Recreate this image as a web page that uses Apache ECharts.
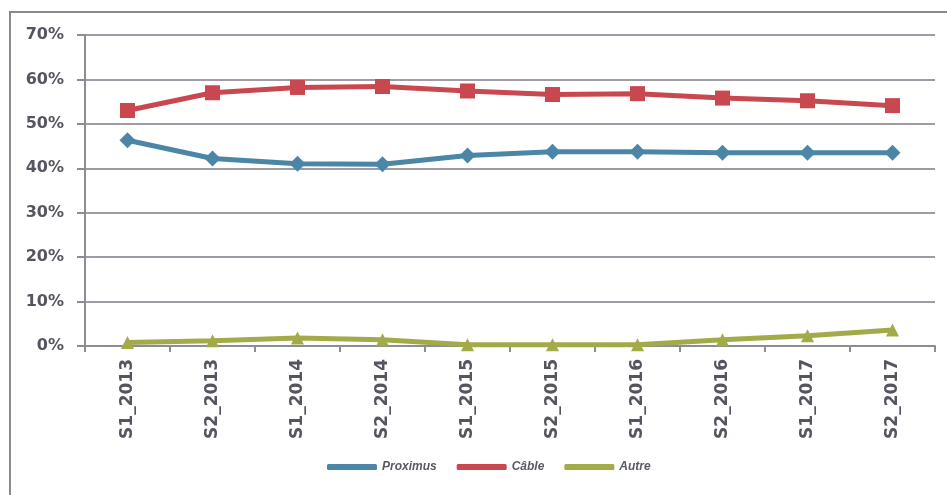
<!DOCTYPE html>
<html>
<head>
<meta charset="utf-8">
<script src="https://cdn.jsdelivr.net/npm/echarts@6/dist/echarts.min.js"></script>
<style>
  html, body { margin: 0; padding: 0; background: #ffffff; }
  #chart { width: 947px; height: 495px; }
</style>
</head>
<body>
<div id="chart"></div>
<script>
// Half-year periods on the category axis
const periods = ['S1_2013', 'S2_2013', 'S1_2014', 'S2_2014', 'S1_2015',
                 'S2_2015', 'S1_2016', 'S2_2016', 'S1_2017', 'S2_2017'];

// Market shares (fraction of 1)
const proximus = [0.463, 0.422, 0.410, 0.409, 0.429, 0.437, 0.437, 0.435, 0.435, 0.435];
const cable    = [0.530, 0.570, 0.582, 0.584, 0.574, 0.566, 0.568, 0.558, 0.552, 0.541];
const autre    = [0.008, 0.012, 0.018, 0.014, 0.003, 0.003, 0.003, 0.014, 0.023, 0.036];

const seriesNames = ['Proximus', 'Câble', 'Autre'];
const colors = ['#4b86a6', '#c9474e', '#a3ab48'];

const chart = echarts.init(document.getElementById('chart'), null, { renderer: 'canvas' });

const lineSeries = (name, data, color, symbol, size) => ({
  name: name,
  type: 'line',
  data: data,
  symbol: symbol,
  symbolSize: size,
  showAllSymbol: true,
  lineStyle: { width: 5, color: color },
  itemStyle: { color: color },
  emphasis: { disabled: true },
  z: 3
});

chart.setOption({
  animation: false,
  backgroundColor: '#ffffff',
  color: colors,
  graphic: [{
    type: 'rect',
    shape: { x: 10, y: 12, width: 960, height: 520 },
    style: { fill: 'none', stroke: '#8a8a8a', lineWidth: 2 },
    silent: true
  }],
  grid: { left: 85, right: 12, top: 35, bottom: 149, containLabel: false },
  legend: {
    bottom: 17,
    left: 322,
    itemWidth: 50,
    itemHeight: 6,
    itemGap: 20,
    icon: 'roundRect',
    textStyle: { fontFamily: 'Liberation Sans', fontSize: 12, fontWeight: 'bold', color: '#5a5a64', fontStyle: 'italic' },
    data: seriesNames
  },
  xAxis: {
    type: 'category',
    data: periods,
    boundaryGap: true,
    axisLine: { lineStyle: { color: '#8c8c94', width: 2 } },
    axisTick: { show: true, alignWithLabel: false, length: 6, lineStyle: { color: '#8c8c94', width: 2 } },
    axisLabel: {
      rotate: 90,
      margin: 13,
      fontFamily: 'DejaVu Sans',
      fontSize: 17,
      fontWeight: 'bold',
      color: '#555560'
    },
    splitLine: { show: false }
  },
  yAxis: {
    type: 'value',
    min: 0,
    max: 0.7,
    interval: 0.1,
    axisLine: { show: true, lineStyle: { color: '#8c8c94', width: 2 } },
    axisTick: { show: true, length: 8, lineStyle: { color: '#8c8c94', width: 2 } },
    axisLabel: {
      margin: 21,
      fontFamily: 'DejaVu Sans',
      fontSize: 16,
      fontWeight: 'bold',
      color: '#555560',
      formatter: v => Math.round(v * 100) + '%'
    },
    splitLine: { show: true, lineStyle: { color: '#a09aa4', width: 2 } }
  },
  series: [
    lineSeries(seriesNames[0], proximus, colors[0], 'diamond', 16),
    lineSeries(seriesNames[1], cable, colors[1], 'rect', 15),
    lineSeries(seriesNames[2], autre, colors[2], 'triangle', 13)
  ]
});
</script>
</body>
</html>
